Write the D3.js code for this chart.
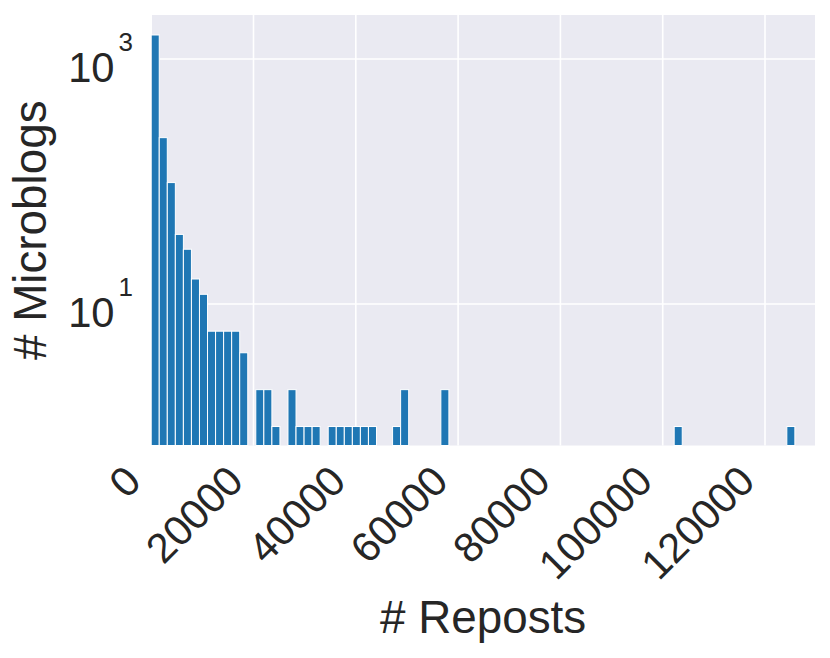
<!DOCTYPE html>
<html>
<head>
<meta charset="utf-8">
<script src="https://cdn.jsdelivr.net/npm/d3@7"></script>
<style>
  body { margin: 0; background: #fff; }
  text { font-family: "Liberation Sans", Arial, sans-serif; fill: #262626; }
</style>
</head>
<body>
<script>
// histogram counts per bin (80 bins starting at 0)
var binWidth = 1573;
var counts = [1570, 228, 98, 37, 28, 16, 12, 6, 6, 6,
              6, 4, 0, 2, 2, 1, 0, 2, 1, 1,
              1, 0, 1, 1, 1, 1, 1, 1, 0, 0,
              1, 2, 0, 0, 0, 0, 2, 0, 0, 0,
              0, 0, 0, 0, 0, 0, 0, 0, 0, 0,
              0, 0, 0, 0, 0, 0, 0, 0, 0, 0,
              0, 0, 0, 0, 0, 1, 0, 0, 0, 0,
              0, 0, 0, 0, 0, 0, 0, 0, 0, 1];
var xTicks = [0, 20000, 40000, 60000, 80000, 100000, 120000];
var yTicks = [10, 1000];
var xLabel = "# Reposts", yLabel = "# Microblogs";

var W = 830, H = 658,
	plotLeft = 151.2, plotRight = 815, plotTop = 15, plotBottom = 445.5,
	tickSize = 41.7, labelSize = 45.8;

var x = d3.scaleLinear().domain([0, 129775]).range([plotLeft, plotRight]);
var y = d3.scaleLog().domain([0.70, 2286]).range([plotBottom, plotTop]);

var svg = d3.select("body").append("svg")
	.attr("width", W)
	.attr("height", H);

svg.append("rect")
	.attr("x", plotLeft).attr("y", plotTop)
	.attr("width", plotRight - plotLeft).attr("height", plotBottom - plotTop)
	.attr("fill", "#eaeaf2");

// grid
svg.selectAll(".vgrid")
	.data(xTicks)
	.enter().append("line")
	.attr("x1", d => x(d)).attr("x2", d => x(d))
	.attr("y1", plotTop).attr("y2", plotBottom)
	.attr("stroke", "#fff").attr("stroke-width", 1.6);

svg.selectAll(".hgrid")
	.data(yTicks)
	.enter().append("line")
	.attr("x1", plotLeft).attr("x2", plotRight)
	.attr("y1", d => y(d)).attr("y2", d => y(d))
	.attr("stroke", "#fff").attr("stroke-width", 1.6);

// bars
var bins = counts.map((c, i) => ({ x0: i * binWidth, x1: (i + 1) * binWidth, n: c }))
	.filter(d => d.n > 0);

svg.selectAll(".bar")
	.data(bins)
	.enter().append("rect")
	.attr("x", d => x(d.x0))
	.attr("width", d => x(d.x1) - x(d.x0))
	.attr("y", d => y(d.n))
	.attr("height", d => plotBottom - y(d.n))
	.attr("fill", "#1f77b4")
	.attr("stroke", "#fff")
	.attr("stroke-width", 1);

// x tick labels, rotated 45
svg.selectAll(".xtick")
	.data(xTicks)
	.enter().append("text")
	.attr("transform", d => "translate(" + (x(d) - 8) + "," + (plotBottom + 38) + ") rotate(-45)")
	.style("text-anchor", "end")
	.style("font-size", tickSize + "px")
	.text(d => d);

// y tick labels 10^n
var yt = svg.selectAll(".ytick")
	.data(yTicks)
	.enter().append("text")
	.attr("x", 133)
	.attr("y", d => y(d) + 23)
	.style("text-anchor", "end")
	.style("font-size", tickSize + "px");
yt.append("tspan").text("10");
yt.append("tspan")
	.attr("dx", 4)
	.attr("dy", -31)
	.style("font-size", "26px")
	.text(d => Math.round(Math.log10(d)));

// axis labels
svg.append("text")
	.attr("x", (plotLeft + plotRight) / 2)
	.attr("y", 633)
	.style("text-anchor", "middle")
	.style("font-size", labelSize + "px")
	.text(xLabel);

svg.append("text")
	.attr("transform", "translate(46," + (plotTop + plotBottom) / 2 + ") rotate(-90)")
	.style("text-anchor", "middle")
	.style("font-size", labelSize + "px")
	.text(yLabel);
</script>
</body>
</html>
